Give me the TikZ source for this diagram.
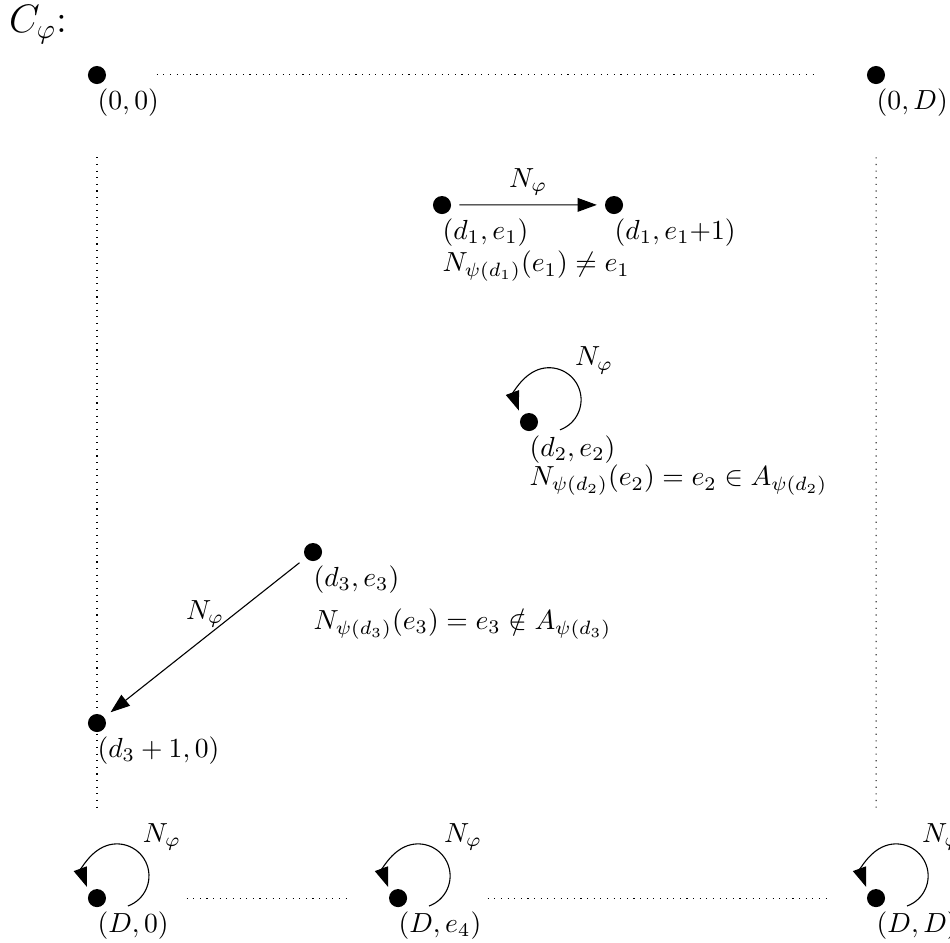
\documentclass[tikz,border=0pt]{standalone}
\usepackage{tikz}
\usetikzlibrary{calc,positioning,arrows.meta}
\tikzset{
  dot/.style={circle, fill=black, minimum size=0.23cm, inner sep=0, outer sep=3pt},
  lab/.style={inner sep=0},
  arr/.style={-{Triangle[length=7pt,width=5pt]}},
  looplab/.style={anchor=south west, inner sep=1pt},
  border/.style={dotted}
}
\def\selfloop(#1){%
  \draw[arr] ($(#1)+(0.234,0.26)+(-70:0.375)$) arc (-70:200:0.375);
  \node[looplab] (#1-n) at ($(#1)+(0.234,0.26)+(45:0.375)$) {$N_\varphi$};}

\begin{document}
\begin{tikzpicture}[scale=1.087]
		%%%%% START %%%%%
		\useasboundingbox (0,0) rectangle (11.129,11.036);
		
		\node[anchor=base west, inner sep=0, font=\Large] (title) at (0.1, 10.65) {$C_\varphi$:};
		
		% corners
		\node[dot] (a00) at (1.136, 10.157) {};
		\node[dot] (a0D) at (10.262, 10.157) {};
		\node[dot] (D0) at (1.136, 0.515) {};
		\node[dot] (De4) at (4.663, 0.515) {};
		\node[dot] (DD) at (10.262, 0.515) {};
		
		% inner points
		\node[dot] (d1) at (5.178, 8.634) {};
		\node[dot] (d1p) at (7.193, 8.634) {};
		\node[dot] (d2) at (6.197, 6.092) {};
		\node[dot] (d3) at (3.667, 4.569) {};
		\node[dot] (d31) at (1.136, 2.566) {};
		
		% borders
		\draw[border, shorten <=0.54cm, shorten >=0.52cm] (a00) -- (a0D);
		\draw[border, shorten <=0.83cm, shorten >=0.92cm] (a00) -- (D0);
		\draw[border, shorten <=0.83cm, shorten >=0.92cm] (a0D) -- (DD);
		\draw[border, shorten <=0.92cm, shorten >=0.42cm] (D0) -- (De4);
		\draw[border, shorten <=0.92cm, shorten >=0.42cm] (De4) -- (DD);
		
		% labels
		\node[lab, below right=0.165cm and 0cm of a00.center] (l00) {$(0,0)$};
		\node[lab, below right=0.165cm and 0cm of a0D.center] (l0D) {$(0,D)$};
		\node[lab, below right=0.165cm and 0cm of D0.center] (lD0) {$(D,0)$};
		\node[lab, below right=0.165cm and 0cm of De4.center] (lDe4) {$(D,e_4)$};
		\node[lab, below right=0.165cm and 0cm of DD.center] (lDD) {$(D,D)$};
		\node[lab, below right=0.165cm and 0cm of d1.center] (l1) {$(d_1,e_1)$};
		\node[lab, below right=0.165cm and 0cm of d1p.center] (l1p) {$(d_1,e_1{+}1)$};
		\node[lab, below right=0.165cm and 0cm of d2.center] (l2) {$(d_2,e_2)$};
		\node[lab, below right=0.165cm and 0cm of d3.center] (l3) {$(d_3,e_3)$};
		\node[lab, below right=0.165cm and 0cm of d31.center] (l31) {$(d_3+1,0)$};
		
		\node[lab, below=0.42cm of l1.base west, anchor=base west] (c1) {$N_{\psi(d_1)}(e_1) \neq e_1$};
		\node[lab, below=0.38cm of l2.base west, anchor=base west] (c2) {$N_{\psi(d_2)}(e_2) = e_2 \in A_{\psi(d_2)}$};
		\node[lab, below=0.55cm of l3.base west, anchor=base west] (c3) {$N_{\psi(d_3)}(e_3) = e_3 \notin A_{\psi(d_3)}$};
		
		% moves
		\draw[arr] (d1) -- node[above] (n1) {$N_\varphi$} (d1p);
		\draw[arr] (d3) -- node[above] (n3) {$N_\varphi$} (d31);
		
		\selfloop(d2)
		\selfloop(D0)
		\selfloop(De4)
		\selfloop(DD)
		
		%%%%% END %%%%%
	\end{tikzpicture}
\end{document}
